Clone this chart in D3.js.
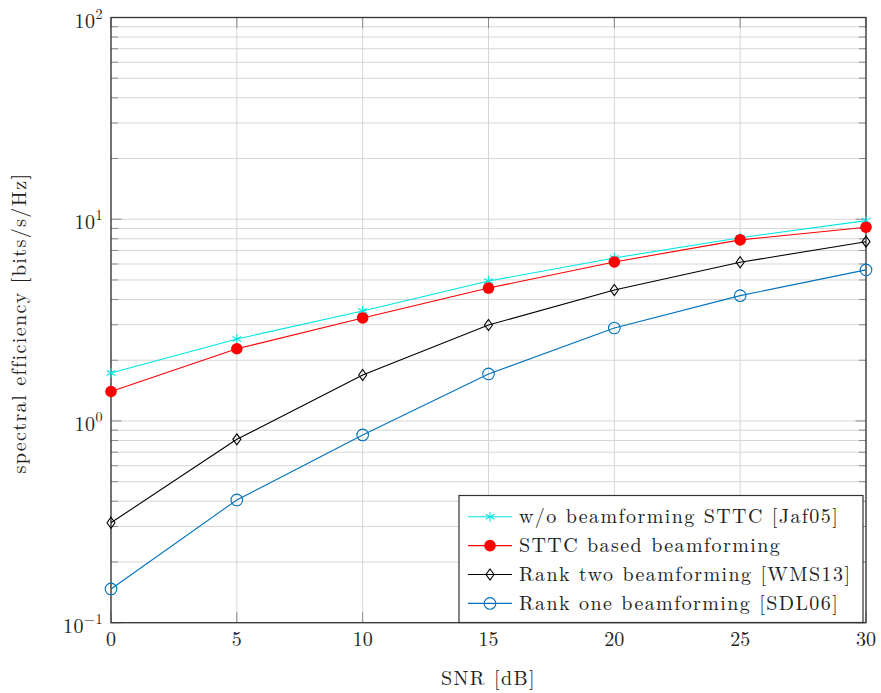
<!DOCTYPE html>
<html>
<head>
<meta charset="utf-8">
<script src="https://cdn.jsdelivr.net/npm/d3@7"></script>
<style>
  html, body { margin: 0; padding: 0; background: #fff; }
  svg text { font-family: "Latin Modern Roman", "CMU Serif", "DejaVu Serif", serif; fill: #222; }
</style>
</head>
<body>
<svg id="chart" width="881" height="693"></svg>
<script>
// SNR points (dB)
const snr = [0, 5, 10, 15, 20, 25, 30];

// spectral efficiency per scheme (bits/s/Hz)
const woBeamformingSTTC = [1.73, 2.55, 3.51, 4.94, 6.43, 8.1, 9.84];
const sttcBeamforming   = [1.40, 2.28, 3.24, 4.56, 6.14, 7.9, 9.13];
const rankTwo           = [0.313, 0.811, 1.69, 2.99, 4.46, 6.12, 7.74];
const rankOne           = [0.147, 0.406, 0.853, 1.71, 2.89, 4.18, 5.61];

const seriesNames = [
  "w/o beamforming STTC [Jaf05]",
  "STTC based beamforming",
  "Rank two beamforming [WMS13]",
  "Rank one beamforming [SDL06]"
];

const xTicks = [0, 5, 10, 15, 20, 25, 30];
const yDecades = [-1, 0, 1, 2];

const series = [
  { name: seriesNames[0], values: woBeamformingSTTC, color: "#00e5e5", marker: "star" },
  { name: seriesNames[1], values: sttcBeamforming,   color: "#ff0000", marker: "dot" },
  { name: seriesNames[2], values: rankTwo,           color: "#000000", marker: "diamond" },
  { name: seriesNames[3], values: rankOne,           color: "#0072bd", marker: "circle" }
];

const svg = d3.select("#chart");
const pL = 111, pR = 866, pT = 17.5, pB = 622.7;
const FS = 20, LS = 1.4;   // label font size and tracking

const x = d3.scaleLinear().domain([0, 30]).range([pL, pR]);
const y = d3.scaleLog().domain([0.1, 100]).range([pB, pT]);

// grid lines
const gridColor = "#d6d6d6";
const g = svg.append("g");
xTicks.forEach(t => {
  g.append("line").attr("x1", x(t)).attr("x2", x(t)).attr("y1", pT).attr("y2", pB)
    .attr("stroke", gridColor).attr("stroke-width", 1);
});
const minorVals = [];
for (let d = -1; d < 2; d++) for (let m = 1; m <= 9; m++) minorVals.push(m * Math.pow(10, d));
minorVals.push(100);
minorVals.forEach(v => {
  g.append("line").attr("x1", pL).attr("x2", pR).attr("y1", y(v)).attr("y2", y(v))
    .attr("stroke", gridColor).attr("stroke-width", 1);
});

// tick marks inside the frame
const tickColor = "#8a8a8a";
minorVals.forEach(v => {
  const isMajor = Math.abs(Math.log10(v) - Math.round(Math.log10(v))) < 1e-9;
  const len = isMajor ? 10.5 : 7;
  g.append("line").attr("x1", pL).attr("x2", pL + len).attr("y1", y(v)).attr("y2", y(v))
    .attr("stroke", tickColor).attr("stroke-width", 1);
  g.append("line").attr("x1", pR).attr("x2", pR - len).attr("y1", y(v)).attr("y2", y(v))
    .attr("stroke", tickColor).attr("stroke-width", 1);
});
xTicks.forEach(t => {
  g.append("line").attr("x1", x(t)).attr("x2", x(t)).attr("y1", pB).attr("y2", pB - 10.5)
    .attr("stroke", tickColor).attr("stroke-width", 1);
  g.append("line").attr("x1", x(t)).attr("x2", x(t)).attr("y1", pT).attr("y2", pT + 10.5)
    .attr("stroke", tickColor).attr("stroke-width", 1);
});

// frame
svg.append("rect").attr("x", pL).attr("y", pT).attr("width", pR - pL).attr("height", pB - pT)
  .attr("fill", "none").attr("stroke", "#333").attr("stroke-width", 1.3);

// x tick labels
xTicks.forEach(t => {
  svg.append("text").attr("x", x(t)).attr("y", pB + 23.5).attr("text-anchor", "middle")
    .attr("font-size", FS).text(t);
});

// y tick labels (powers of ten)
yDecades.forEach(d => {
  const tx = svg.append("text").attr("x", pL - 8).attr("y", y(Math.pow(10, d)) + 10)
    .attr("text-anchor", "end").attr("font-size", FS).attr("letter-spacing", 0.5);
  tx.append("tspan").text("10");
  tx.append("tspan").attr("dy", -9).attr("font-size", 14).text(d < 0 ? "\u2212" + Math.abs(d) : d);
});

// axis titles
svg.append("text").attr("x", (pL + pR) / 2).attr("y", 685).attr("text-anchor", "middle")
  .attr("font-size", FS).attr("letter-spacing", LS).text("SNR [dB]");
svg.append("text").attr("transform", `translate(26, ${(pT + pB) / 2 + 3}) rotate(-90)`)
  .attr("text-anchor", "middle").attr("font-size", FS).attr("letter-spacing", LS)
  .text("spectral efficiency [bits/s/Hz]");

// marker drawing
function drawMarker(sel, type, color, cx, cy) {
  if (type === "star") {
    const r = 5;
    for (let k = 0; k < 3; k++) {
      const a = Math.PI / 2 + k * Math.PI / 3;
      sel.append("line").attr("x1", cx - r * Math.cos(a)).attr("y1", cy - r * Math.sin(a))
        .attr("x2", cx + r * Math.cos(a)).attr("y2", cy + r * Math.sin(a))
        .attr("stroke", color).attr("stroke-width", 1.1);
    }
  } else if (type === "dot") {
    sel.append("circle").attr("cx", cx).attr("cy", cy).attr("r", 5.8).attr("fill", color);
  } else if (type === "diamond") {
    sel.append("path").attr("d", `M${cx},${cy - 5.5}L${cx + 4},${cy}L${cx},${cy + 5.5}L${cx - 4},${cy}Z`)
      .attr("fill", "none").attr("stroke", color).attr("stroke-width", 1.1);
  } else if (type === "circle") {
    sel.append("circle").attr("cx", cx).attr("cy", cy).attr("r", 5.8)
      .attr("fill", "none").attr("stroke", color).attr("stroke-width", 1.1);
  }
}

const line = d3.line().x((d, i) => x(snr[i])).y(d => y(d));
const plot = svg.append("g");
series.forEach(s => {
  plot.append("path").datum(s.values).attr("d", line).attr("fill", "none")
    .attr("stroke", s.color).attr("stroke-width", 1.1);
  s.values.forEach((v, i) => drawMarker(plot, s.marker, s.color, x(snr[i]), y(v)));
});

// legend
const lg = svg.append("g");
const lx = 459, ly = 495.5, lw = 404, lh = 127;
lg.append("rect").attr("x", lx).attr("y", ly).attr("width", lw).attr("height", lh)
  .attr("fill", "#fff").attr("stroke", "#333").attr("stroke-width", 1.2);
series.forEach((s, i) => {
  const cy = 516.7 + i * 28.9;
  lg.append("line").attr("x1", 468).attr("x2", 512).attr("y1", cy).attr("y2", cy)
    .attr("stroke", s.color).attr("stroke-width", 1.1);
  drawMarker(lg, s.marker, s.color, 490, cy);
  lg.append("text").attr("x", 519).attr("y", cy + 6.5).attr("font-size", FS)
    .attr("letter-spacing", LS).text(s.name);
});
</script>
</body>
</html>
